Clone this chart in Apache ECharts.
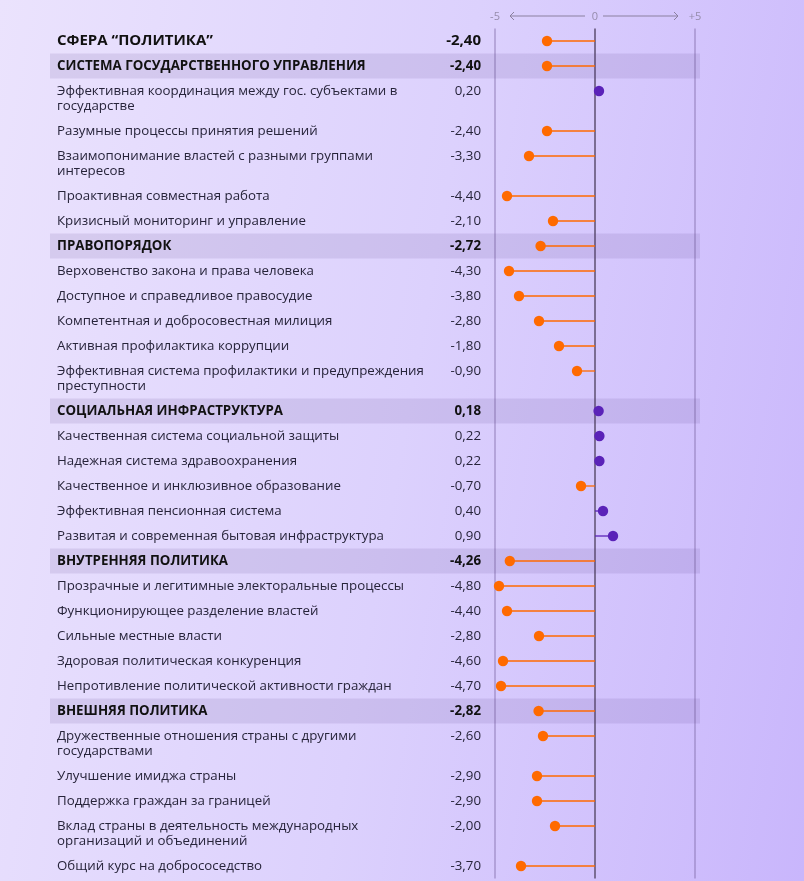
<!DOCTYPE html>
<html>
<head>
<meta charset="utf-8">
<script src="https://cdn.jsdelivr.net/npm/echarts@6/dist/echarts.min.js"></script>
<style>
html,body{margin:0;padding:0;}
body{width:804px;height:881px;background:linear-gradient(100deg,#ebe3fd 0%,#dcd1fd 50%,#c9b6fc 100%);}
#c{width:804px;height:881px;}
</style>
</head>
<body>
<div id="c"></div>
<script>
const labels = [
  "СФЕРА “ПОЛИТИКА”",
  "СИСТЕМА ГОСУДАРСТВЕННОГО УПРАВЛЕНИЯ",
  "Эффективная координация между гос. субъектами в\nгосударстве",
  "Разумные процессы принятия решений",
  "Взаимопонимание властей с разными группами\nинтересов",
  "Проактивная совместная работа",
  "Кризисный мониторинг и управление",
  "ПРАВОПОРЯДОК",
  "Верховенство закона и права человека",
  "Доступное и справедливое правосудие",
  "Компетентная и добросовестная милиция",
  "Активная профилактика коррупции",
  "Эффективная система профилактики и предупреждения\nпреступности",
  "СОЦИАЛЬНАЯ ИНФРАСТРУКТУРА",
  "Качественная система социальной защиты",
  "Надежная система здравоохранения",
  "Качественное и инклюзивное образование",
  "Эффективная пенсионная система",
  "Развитая и современная бытовая инфраструктура",
  "ВНУТРЕННЯЯ ПОЛИТИКА",
  "Прозрачные и легитимные электоральные процессы",
  "Функционирующее разделение властей",
  "Сильные местные власти",
  "Здоровая политическая конкуренция",
  "Непротивление политической активности граждан",
  "ВНЕШНЯЯ ПОЛИТИКА",
  "Дружественные отношения страны с другими\nгосударствами",
  "Улучшение имиджа страны",
  "Поддержка граждан за границей",
  "Вклад страны в деятельность международных\nорганизаций и объединений",
  "Общий курс на добрососедство"
];
const values = [-2.40,-2.40,0.20,-2.40,-3.30,-4.40,-2.10,-2.72,-4.30,-3.80,-2.80,-1.80,-0.90,0.18,0.22,0.22,-0.70,0.40,0.90,-4.26,-4.80,-4.40,-2.80,-4.60,-4.70,-2.82,-2.60,-2.90,-2.90,-2.00,-3.70];
const kinds = ["top","head","item","item","item","item","item","head","item","item","item","item","item","head","item","item","item","item","item","head","item","item","item","item","item","head","item","item","item","item","item"];
const tickLabels = {"-5":"-5","0":"0","5":"+5"};

// row slots: one text line = 1 unit, each extra line = 0.6 unit
const centers = [];
let acc = 0;
labels.forEach(l => {
  const n = l.split("\n").length;
  centers.push(acc + 0.5);
  acc += 1 + 0.6 * (n - 1);
});
const total = acc;

const ORANGE = "#ff6a00", PURPLE = "#5a22b8";
const FONT = "'Open Sans', 'Noto Sans', sans-serif";

const chart = echarts.init(document.getElementById('c'), null, {renderer:'canvas'});
const data = values.map((v,i) => [v, centers[i], i]);

function renderItem(params, api) {
  const i = api.value(2);
  const v = api.value(0);
  const p = api.coord([v, api.value(1)]);
  const z = api.coord([0, api.value(1)]);
  const cs = params.coordSys;
  const rowH = api.size([0, 1])[1];
  const kind = kinds[i];
  const col = v < 0 ? ORANGE : PURPLE;
  const children = [];
  if (kind === 'head') {
    children.push({type:'rect', shape:{x:50, y:p[1]-rowH/2, width:cs.x+cs.width+5-50, height:rowH},
      style:{fill:'rgba(80,60,130,0.12)'}, z2:0});
  }
  const bold = kind !== 'item';
  const fs = kind === 'top' ? 15 : 13.3;
  children.push({type:'text', z2:5, style:{text:labels[i], x:57, y:p[1]-7.5, verticalAlign:'top', align:'left',
    lineHeight:15, fontSize:fs, fontFamily:FONT, fontWeight:bold?'bold':'normal', fill:bold?'#111':'#27243a'}});
  children.push({type:'text', z2:5, style:{text:v.toFixed(2).replace('.',','), x:481, y:p[1], verticalAlign:'middle', align:'right',
    fontSize:fs, fontFamily:FONT, fontWeight:bold?'bold':'normal', fill:bold?'#111':'#27243a'}});
  children.push({type:'line', z2:6, shape:{x1:z[0], y1:p[1], x2:p[0], y2:p[1]}, style:{stroke:col, lineWidth:1.3}});
  children.push({type:'circle', z2:7, shape:{cx:p[0], cy:p[1], r:5.2}, style:{fill:col}});
  return {type:'group', children};
}

chart.setOption({
  animation:false,
  grid:{left:495, right:109, top:28.5, bottom:881-28.5-850, containLabel:false},
  xAxis:{type:'value', min:-5, max:5, interval:5, position:'top',
    axisLine:{show:false}, axisTick:{show:false},
    axisLabel:{margin:6, color:'#968cab', fontSize:11, fontFamily:FONT, formatter:v => tickLabels[String(v)]},
    splitLine:{show:true, lineStyle:{width:2, color:['rgba(120,100,160,0.38)','#7b6d93','rgba(120,100,160,0.38)']}}},
  yAxis:{type:'value', min:0, max:total, inverse:true, show:false, splitLine:{show:false}},
  series:[{type:'custom', renderItem, data, clip:false, z:3}]
});

function arrow(a, b, y, dir) {
  const x1 = chart.convertToPixel({xAxisIndex:0}, a);
  const x2 = chart.convertToPixel({xAxisIndex:0}, b);
  const tip = dir < 0 ? x1 : x2;
  return [
    {type:'line', shape:{x1, y1:y, x2, y2:y}, style:{stroke:'#8b809f', lineWidth:1}},
    {type:'polyline', shape:{points:[[tip - dir*4, y-4],[tip, y],[tip - dir*4, y+4]]}, style:{stroke:'#8b809f', lineWidth:1, fill:null}}
  ];
}
chart.setOption({graphic:[...arrow(-4.25,-0.5,16,-1), ...arrow(0.4,4.15,16,1)]});
</script>
</body>
</html>
